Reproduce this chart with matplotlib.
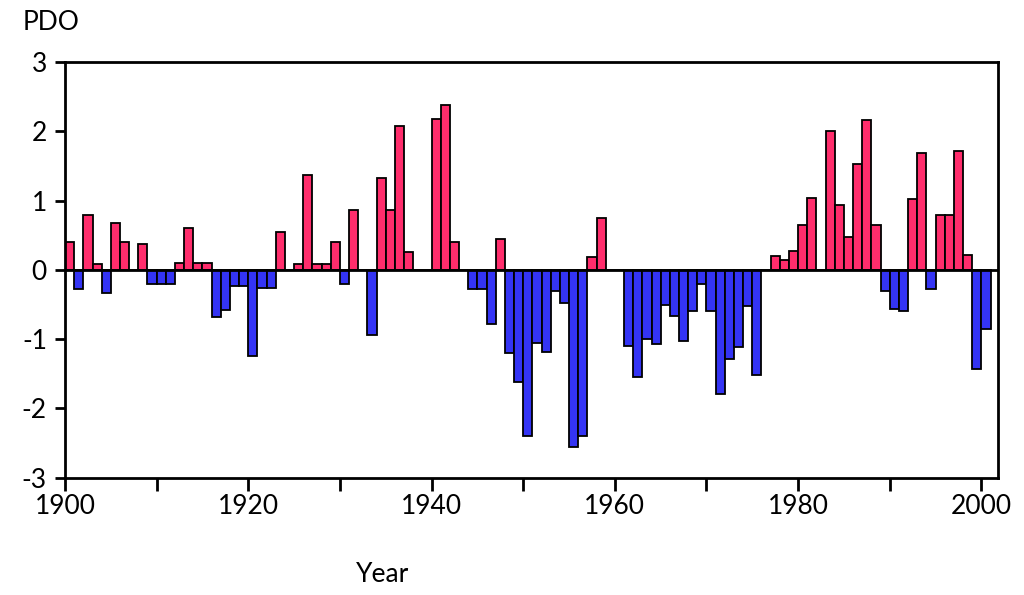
import numpy as np
import matplotlib
matplotlib.use('Agg')
import matplotlib.pyplot as plt

# Font settings
plt.rcParams['font.family'] = ['Lato', 'DejaVu Sans']

# Yearly PDO values (1900-2000)
years = np.arange(1900, 2001)
pdo = [0.40, -0.28, 0.79, 0.08, -0.34, 0.68, 0.40, 0.0, 0.37, -0.20,
       -0.20, -0.20, 0.10, 0.60, 0.10, 0.10, -0.68, -0.58, -0.23, -0.23,
       -1.24, -0.26, -0.26, 0.54, 0.0, 0.09, 1.37, 0.09, 0.09, 0.40,
       -0.20, 0.86, 0.0, -0.94, 1.32, 0.87, 2.07, 0.26, 0.0, 0.0,
       2.17, 2.38, 0.40, 0.0, -0.27, -0.28, -0.78, 0.45, -1.20, -1.62,
       -2.40, -1.05, -1.18, -0.31, -0.48, -2.56, -2.40, 0.18, 0.75, 0.0,
       0.0, -1.10, -1.55, -1.00, -1.07, -0.51, -0.67, -1.02, -0.60, -0.21,
       -0.60, -1.79, -1.28, -1.12, -0.52, -1.51, 0.0, 0.20, 0.14, 0.27,
       0.64, 1.04, 0.0, 2.00, 0.93, 0.47, 1.52, 2.16, 0.65, -0.30,
       -0.57, -0.59, 1.02, 1.69, -0.28, 0.79, 0.79, 1.72, 0.22, -1.43,
       -0.85]

x_ticks = np.arange(1900, 2001, 10)
x_labels = [str(y) if y % 20 == 0 else '' for y in x_ticks]
y_ticks = [-3, -2, -1, 0, 1, 2, 3]

pos_color = '#ff2d6c'
neg_color = '#3434f4'
colors = [pos_color if v > 0 else neg_color for v in pdo]

fig = plt.figure(figsize=(10.24, 5.95), dpi=100)
ax = fig.add_axes([0.0635, 0.197, 0.911, 0.699])

# Bars, each one year wide starting at its year
ax.bar(years, pdo, width=1.0, align='edge', color=colors,
       edgecolor='black', linewidth=1.3)

# Zero line
ax.axhline(0, color='black', linewidth=2.0)

ax.set_xlim(1900, 2001.8)
ax.set_ylim(-3, 3)
ax.set_xticks(x_ticks)
ax.set_xticklabels(x_labels)
ax.set_yticks(y_ticks)
ax.set_yticklabels([str(v) for v in y_ticks])

for spine in ax.spines.values():
    spine.set_linewidth(2.0)
ax.tick_params(axis='both', direction='out', width=2.0, labelsize=19)
ax.tick_params(axis='x', length=9, pad=3)
ax.tick_params(axis='y', length=7, pad=6)

# Axis titles placed as in the original
fig.text(0.022, 0.962, 'PDO', fontsize=19, ha='left', va='center')
fig.text(0.374, 0.035, 'Year', fontsize=19, ha='center', va='center')

fig.savefig('out.png', dpi=100)
